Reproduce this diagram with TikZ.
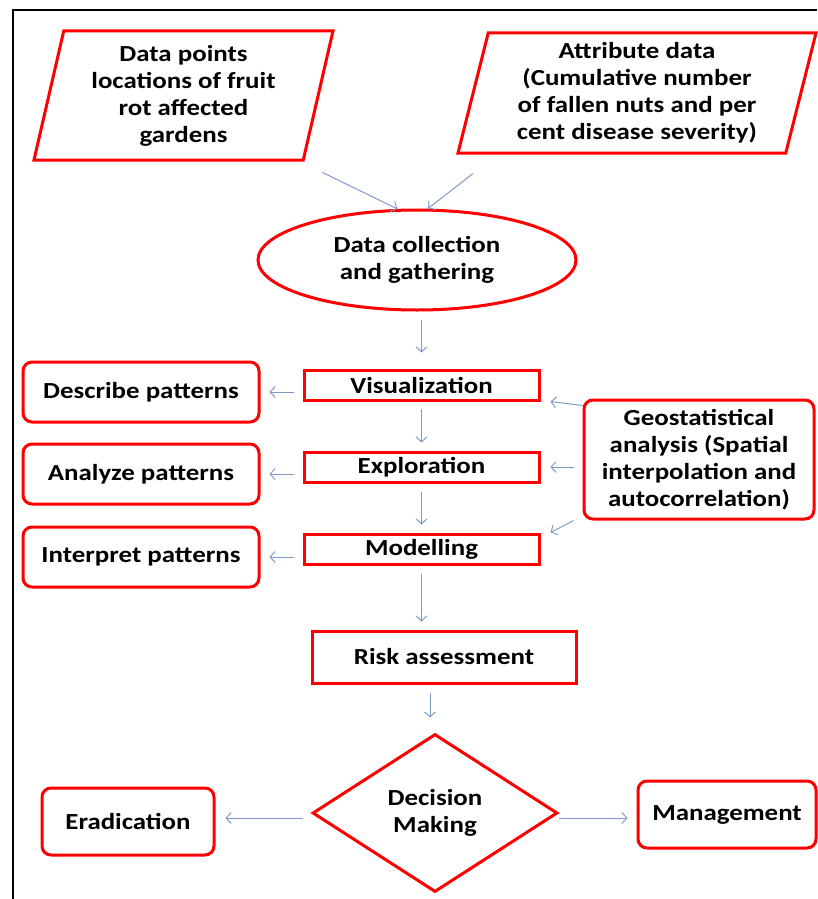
\documentclass[tikz,border=0pt]{standalone}
\usepackage{fontspec}
\setmainfont{Carlito}[FakeStretch=1.17]
\usetikzlibrary{shapes.geometric,arrows.meta}
\definecolor{linkblue}{RGB}{125,155,200}

\begin{document}
\begin{tikzpicture}[x=1pt,y=-1pt,
              every node/.style={font=\fontsize{23}{27}\selectfont\bfseries, align=center, inner sep=0pt},
              datashape/.style={draw=red, line width=3pt, trapezium, trapezium stretches body},
              stepbox/.style={draw=red, line width=3pt, rectangle},
              roundbox/.style={draw=red, line width=3pt, rectangle, rounded corners=9pt},
              link/.style={draw=linkblue, line width=1pt, -{Straight Barb[length=5pt,width=11pt]}}
            ]
              \useasboundingbox (0,0) rectangle (817,899);
              \draw[line width=1.5pt] (13,899) -- (13,10) -- (817,10);

              % inputs
              \node[datashape, trapezium left angle=73.6, trapezium right angle=106.4,
                    minimum width=299pt, minimum height=129pt] (p1) at (183.5,95.5)
                    {Data points\\locations of fruit\\rot affected\\gardens};
              \node[datashape, trapezium left angle=73.3, trapezium right angle=106.7,
                    minimum width=358pt, minimum height=120pt] (p2) at (637,93)
                    {Attribute data\\(Cumulative number\\of fallen nuts and per\\cent disease severity)};
              \node[draw=red, line width=3pt, ellipse, minimum width=318pt, minimum height=100pt] (dc) at (417,260)
                    {Data collection\\and gathering};

              % main steps
              \node[stepbox, minimum width=235pt, minimum height=30pt] (vis) at (421.5,385) {Visualization};
              \node[stepbox, minimum width=235pt, minimum height=30pt] (exp) at (421.5,467) {Exploration};
              \node[stepbox, minimum width=235pt, minimum height=30pt] (mod) at (421.5,549) {Modelling};
              \node[stepbox, minimum width=264pt, minimum height=52pt] (risk) at (444,657) {Risk assessment};

              \node[roundbox, minimum width=236pt, minimum height=60pt] (desc) at (141,392) {Describe patterns};
              \node[roundbox, minimum width=236pt, minimum height=60pt] (ana) at (141,474) {Analyze patterns};
              \node[roundbox, minimum width=236pt, minimum height=60pt] (int) at (141,557) {Interpret patterns};
              \node[roundbox, minimum width=230pt, minimum height=119pt] (geo) at (699,459.5)
                    {Geostatistical\\analysis (Spatial\\interpolation and\\autocorrelation)};

              % decision
              \node[draw=red, line width=3pt, diamond, aspect=1.55, minimum width=245pt, minimum height=158pt] (dm) at (435,813)
                    {Decision\\Making};
              \node[roundbox, minimum width=172pt, minimum height=67pt] (erad) at (128,821.5) {Eradication};
              \node[roundbox, minimum width=178pt, minimum height=67pt] (man) at (727,814.5) {Management};

              % connectors
              \draw[link] ([shift={(18pt,-11pt)}]p1.bottom right corner) -- (dc.111);
              \draw[link] ([shift={(17pt,-19pt)}]p2.bottom left corner) -- (dc.78);
              \draw[link, shorten <=8pt, shorten >=16pt] (vis.north |- dc.south) -- (vis.north);
              \draw[link, shorten <=7pt, shorten >=8pt] (vis.south) -- (exp.north);
              \draw[link, shorten <=8pt, shorten >=8pt] (exp.south) -- (mod.north);
              \draw[link, shorten <=8pt, shorten >=8pt] (mod.south) -- (mod.south |- risk.north);
              \draw[link, shorten <=8pt, shorten >=15pt] ([xshift=-14pt]risk.south) -- ([xshift=-14pt]risk.south |- dm.north);
              \draw[link, shorten <=9pt, shorten >=9pt] (vis.west |- desc.east) -- (desc.east);
              \draw[link, shorten <=9pt, shorten >=9pt] (exp.west |- ana.east) -- (ana.east);
              \draw[link, shorten <=9pt, shorten >=9pt] (mod.west |- int.east) -- (int.east);
              \draw[link] ([yshift=-7pt]geo.north west) -- ([xshift=10pt]vis.south east);
              \draw[link, shorten <=9pt, shorten >=10pt] (geo.west |- exp.east) -- (exp.east);
              \draw[link] ([xshift=-9pt]geo.south west) -- ([xshift=10pt]mod.north east);
              \draw[link, shorten <=8pt, shorten >=10pt] ([yshift=-5pt]dm.west) -- ([yshift=-5pt]dm.west -| erad.east);
              \draw[link, shorten >=9pt] ([yshift=-5pt]dm.east) -- ([yshift=-5pt]dm.east -| man.west);
            \end{tikzpicture}
\end{document}
